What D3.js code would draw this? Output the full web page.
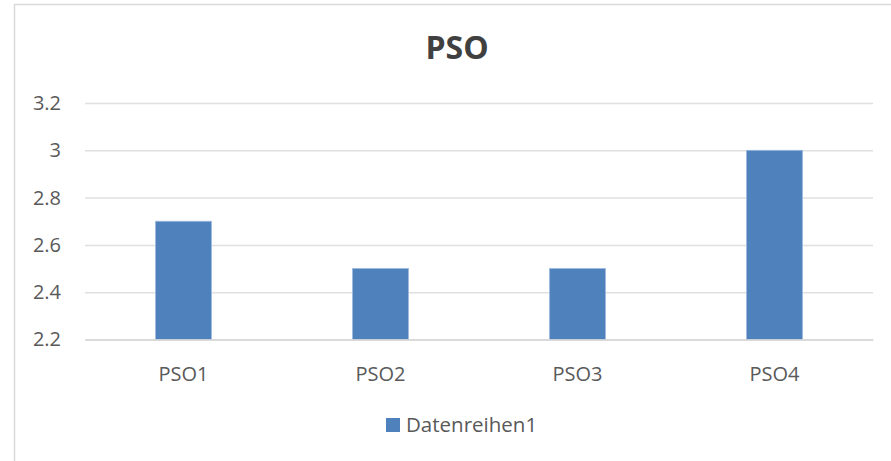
<!DOCTYPE html>
<html>
<head>
<meta charset="utf-8">
<script src="https://cdn.jsdelivr.net/npm/d3@7"></script>
<style>
  body { margin: 0; background: #fff; }
  svg { display: block; font-family: "Open Sans", "Liberation Sans", sans-serif; }
</style>
</head>
<body>
<svg width="891" height="461"></svg>
<script>
// chart data
const categories = ["PSO1", "PSO2", "PSO3", "PSO4"];
const values = [2.7, 2.5, 2.5, 3.0];
const yTicks = [2.2, 2.4, 2.6, 2.8, 3.0, 3.2];
const seriesName = "Datenreihen1";
const chartTitle = "PSO";

const width = 891, height = 461;
const margin = {top: 103, right: 18, bottom: 121.5, left: 85};
const fontFam = '"Open Sans", "Liberation Sans", sans-serif';

const svg = d3.select("svg");

// outer chart frame (runs past right and bottom edge)
svg.append("rect")
  .attr("x", 14.5).attr("y", 4.5)
  .attr("width", width + 20).attr("height", height + 20)
  .attr("fill", "#fff")
  .attr("stroke", "#d9d9d9")
  .attr("stroke-width", 1.5);

const x = d3.scaleBand()
  .domain(categories)
  .range([margin.left, width - margin.right])
  .paddingInner(0.716)
  .paddingOuter(0.358);

const y = d3.scaleLinear()
  .domain([2.2, 3.2])
  .range([height - margin.bottom, margin.top]);

// gridlines + y labels
const yAxis = svg.append("g")
  .attr("class", "y_axis")
  .attr("transform", "translate(" + margin.left + ",0)")
  .call(d3.axisLeft(y)
    .tickValues(yTicks)
    .tickSize(-(width - margin.left - margin.right))
    .tickPadding(24)
    .tickFormat(d => String(+d.toFixed(1))));

yAxis.attr("font-family", fontFam).attr("font-size", 20);
yAxis.select(".domain").remove();
yAxis.selectAll(".tick line")
  .attr("stroke", "#e0e0e0")
  .attr("stroke-width", 1.5);
yAxis.selectAll(".tick text")
  .attr("fill", "#595959");

// bars
svg.selectAll(".bar")
  .data(values)
  .enter().append("rect")
  .attr("class", "bar")
  .attr("x", (d, i) => x(categories[i]))
  .attr("y", d => y(d))
  .attr("width", x.bandwidth())
  .attr("height", d => y(2.2) - y(d))
  .attr("fill", "#4f81bd")
  .attr("stroke", "#9cb9dd")
  .attr("stroke-width", 0.8);

// category axis
const xAxis = svg.append("g")
  .attr("class", "x_axis")
  .attr("transform", "translate(0," + y(2.2) + ")")
  .call(d3.axisBottom(x).tickSize(0).tickPadding(27));

xAxis.attr("font-family", fontFam).attr("font-size", 20);
xAxis.select(".domain")
  .attr("stroke", "#d6d6d6")
  .attr("stroke-width", 1.5);
xAxis.selectAll(".tick text")
  .attr("fill", "#595959");

// title
svg.append("text")
  .attr("x", 457)
  .attr("y", 59)
  .attr("text-anchor", "middle")
  .attr("fill", "#404040")
  .style("font-size", "32px")
  .style("font-weight", "bold")
  .text(chartTitle);

// legend
const legend = svg.append("g").attr("transform", "translate(386,418)");
legend.append("rect")
  .attr("width", 14).attr("height", 14)
  .attr("fill", "#4f81bd");
legend.append("text")
  .attr("x", 20).attr("y", 14)
  .attr("fill", "#595959")
  .style("font-size", "20.5px")
  .text(seriesName);
</script>
</body>
</html>
